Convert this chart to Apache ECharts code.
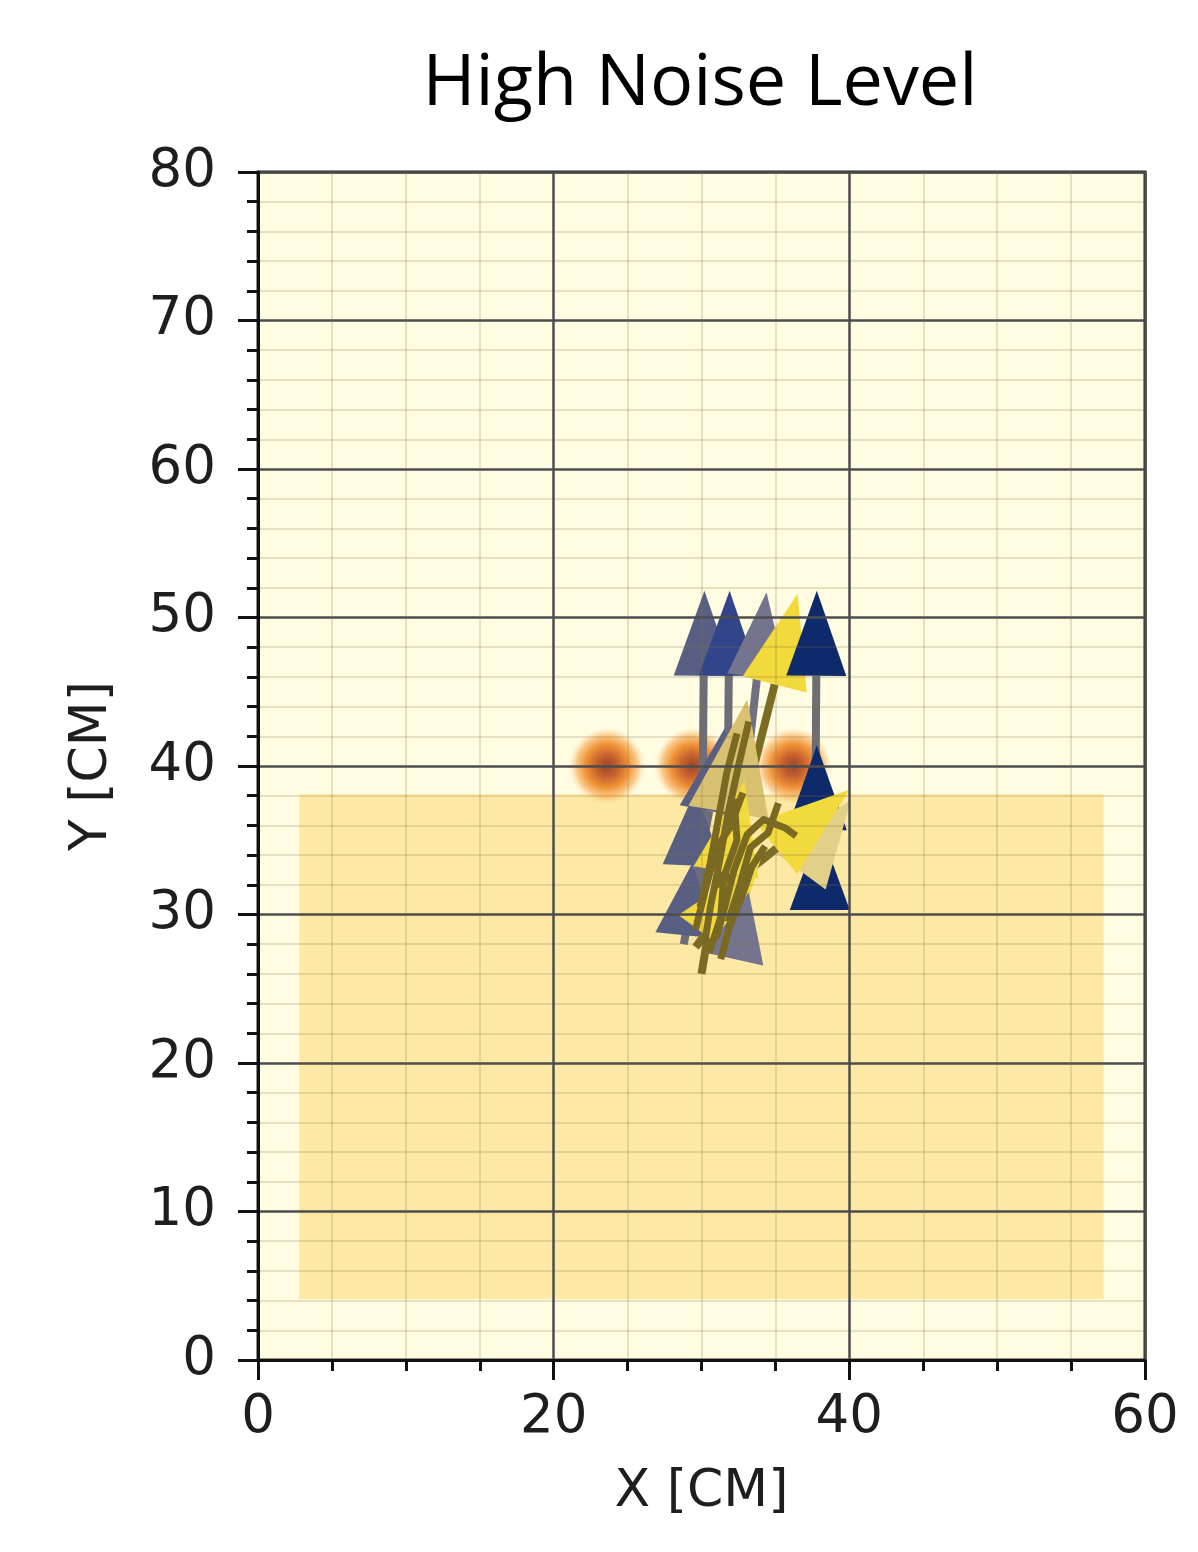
<!DOCTYPE html>
<html>
<head>
<meta charset="utf-8">
<script src="https://cdn.jsdelivr.net/npm/echarts@6/dist/echarts.min.js"></script>
<style>
  html, body { margin: 0; padding: 0; background: #fff; }
  #chart { width: 1198px; height: 1552px; }
</style>
</head>
<body>
<div id="chart"></div>
<script>
// --- data ---
// shaded region (x from/to, y from/to)
const zoneX = [2.8, 57.2]
const zoneY = [4.1, 38.1]

// glowing source points
const blobX = [23.6, 29.4, 36.2]
const blobY = [40, 40, 40]

// arrows: tail -> tip, and a kind index (drawn in this order)
const tailX = [30.0, 31.7, 32.3, 31.4, 37.7, 28.8, 29.4, 28.9, 38.0, 37.8, 36.6, 31.0, 30.0, 30.6, 29.6, 32.2]
const tailY = [30.0, 31.0, 33.0, 31.5, 36.0, 28.0, 33.3, 28.6, 30.3, 35.6, 33.0, 31.2, 26.0, 27.5, 27.8, 27.0]
const tipX  = [30.2, 31.9, 34.4, 36.5, 37.8, 31.6, 29.6, 29.4, 38.0, 37.8, 40.1, 40.0, 33.1, 32.9, 34.0, 33.2]
const tipY  = [51.8, 51.8, 51.7, 51.6, 51.8, 42.6, 38.4, 33.5, 35.8, 41.4, 37.7, 38.4, 44.5, 39.0, 33.7, 31.5]
const kind  = [0,    1,    2,    3,    4,    0,    0,    0,    4,    4,    6,    3,    5,    3,    3,    2]

// noisy trajectories
const trails = [
  [[30.2, 28.0], [30.6, 30.5], [31.2, 33.5], [31.8, 36.8], [32.5, 40.0], [33.2, 43.0]],
  [[31.0, 28.4], [31.6, 30.6], [32.2, 33.0], [33.1, 35.4], [34.2, 36.4], [35.7, 35.8], [36.4, 35.3]],
  [[29.9, 30.5], [30.6, 33.5], [31.1, 36.2], [31.7, 39.5], [32.4, 42.2]],
  [[31.8, 29.5], [32.6, 32.0], [33.3, 34.5], [34.5, 35.5], [35.2, 37.5]],
  [[30.5, 27.4], [31.3, 29.8], [31.5, 32.5], [32.4, 35.0], [32.2, 37.8]],
  [[29.6, 29.0], [30.3, 31.8], [31.0, 34.5], [31.9, 35.8], [32.8, 38.2]],
  [[31.3, 27.0], [31.9, 29.2], [32.8, 31.4], [33.4, 33.2], [34.3, 34.6]]
]

// --- styles ---
const headColors = ['#585f83', '#33458a', '#74748e', '#f2d93c', '#0e2a6b', '#d8c170', '#e2cf88']
const stemColors = ['#6c6d78', '#6c6d78', '#707080', '#7c6b22', '#6e6e72', '#7c6b22', '#8a7a38']
const headScale  = [1, 1, 1, 1.1, 1, 1.35, 1.1]

const chart = echarts.init(document.getElementById('chart'))

const arrowData = tailX.map((x, i) => [x, tailY[i], tipX[i], tipY[i], kind[i]])

function renderArrow(params, api) {
  const p0 = api.coord([api.value(0), api.value(1)])
  const p1 = api.coord([api.value(2), api.value(3)])
  const k = api.value(4)
  const dx = p1[0] - p0[0]
  const dy = p1[1] - p0[1]
  const len = Math.sqrt(dx * dx + dy * dy) || 1
  const ux = dx / len
  const uy = dy / len
  const headLen = Math.min(85 * headScale[k], len)
  const halfW = 30 * headScale[k]
  const bx = p1[0] - ux * headLen
  const by = p1[1] - uy * headLen
  const children = []
  if (len > headLen) {
    children.push({
      type: 'line',
      shape: { x1: p0[0], y1: p0[1], x2: bx, y2: by },
      style: { stroke: stemColors[k], lineWidth: 8 }
    })
  }
  children.push({
    type: 'polygon',
    shape: { points: [p1, [bx - uy * halfW, by + ux * halfW], [bx + uy * halfW, by - ux * halfW]] },
    style: { fill: headColors[k] }
  })
  return { type: 'group', children }
}

const axisText = { fontFamily: 'DejaVu Sans', fontSize: 53, color: '#1e1e1e' }
const nameText = { fontFamily: 'DejaVu Sans', fontSize: 52, color: '#1e1e1e' }

const option = {
  animation: false,
  backgroundColor: '#fff',
  graphic: [{
    type: 'text',
    x: 700,
    y: 48,
    style: { text: 'High Noise Level', font: '72px "Open Sans"', fill: '#000', textAlign: 'center' }
  }],
  grid: {
    left: 258, right: 53, top: 172, bottom: 192,
    show: true,
    backgroundColor: '#fffce2',
    borderColor: '#222',
    borderWidth: 3
  },
  xAxis: {
    type: 'value', min: 0, max: 60, interval: 20, z: 10,
    name: 'X [CM]', nameLocation: 'middle', nameGap: 106,
    nameTextStyle: nameText,
    axisLine: { lineStyle: { color: '#111', width: 3 } },
    axisTick: { length: 20, lineStyle: { color: '#111', width: 3 } },
    minorTick: { show: true, splitNumber: 4, length: 11, lineStyle: { color: '#111', width: 3 } },
    axisLabel: Object.assign({ margin: 32 }, axisText),
    splitLine: { lineStyle: { color: '#4d4d4d', width: 2.5 } },
    minorSplitLine: { show: true, lineStyle: { color: 'rgba(130,115,60,0.2)', width: 2 } }
  },
  yAxis: {
    type: 'value', min: 0, max: 80, interval: 10, z: 10,
    name: 'Y [CM]', nameLocation: 'middle', nameGap: 140,
    nameTextStyle: nameText,
    axisLine: { lineStyle: { color: '#111', width: 3 } },
    axisTick: { length: 20, lineStyle: { color: '#111', width: 3 } },
    minorTick: { show: true, splitNumber: 5, length: 11, lineStyle: { color: '#111', width: 3 } },
    axisLabel: Object.assign({ margin: 42 }, axisText),
    splitLine: { lineStyle: { color: '#4d4d4d', width: 2.5 } },
    minorSplitLine: { show: true, lineStyle: { color: 'rgba(130,115,60,0.2)', width: 2 } }
  },
  series: [
    {
      type: 'scatter', z: 1, silent: true, data: [],
      markArea: {
        silent: true,
        itemStyle: { color: '#fde8a4' },
        data: [[{ coord: [zoneX[0], zoneY[0]] }, { coord: [zoneX[1], zoneY[1]] }]]
      }
    },
    {
      type: 'scatter', z: 2, symbol: 'circle', symbolSize: 76,
      data: blobX.map((x, i) => [x, blobY[i]]),
      itemStyle: {
        color: {
          type: 'radial', x: 0.5, y: 0.5, r: 0.5,
          colorStops: [
            { offset: 0, color: '#7a1c00' },
            { offset: 0.3, color: '#bc3c00' },
            { offset: 0.58, color: '#ec7a0e' },
            { offset: 0.8, color: 'rgba(246,150,50,0.65)' },
            { offset: 1, color: 'rgba(255,200,120,0)' }
          ]
        }
      }
    },
    {
      type: 'custom', z: 3, clip: false,
      renderItem: renderArrow,
      encode: { x: [0, 2], y: [1, 3] },
      data: arrowData
    },
    ...trails.map(t => ({
      type: 'line', z: 4, symbol: 'none', data: t,
      lineStyle: { color: '#7a6921', width: 7, join: 'round' }
    }))
  ]
}

chart.setOption(option)
window.addEventListener('resize', () => chart.resize())
</script>
</body>
</html>
